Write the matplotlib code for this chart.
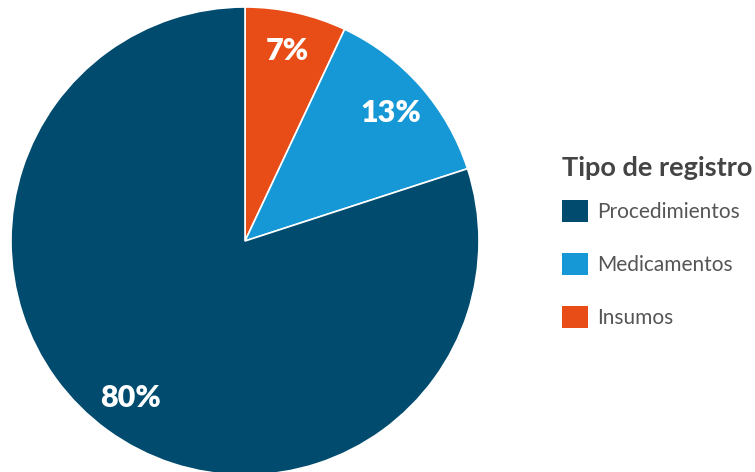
import matplotlib.pyplot as plt

labels = ['Insumos', 'Medicamentos', 'Procedimientos']
values = [7, 13, 80]
colors = ['#e84c17', '#1598d5', '#004b6e']
legend_order = ['Procedimientos', 'Medicamentos', 'Insumos']

plt.rcParams['font.family'] = ['Lato', 'DejaVu Sans']

fig = plt.figure(figsize=(7.55, 4.72), dpi=100)
# pie centred at (245, 241) px with radius 234 px
ax = fig.add_axes([11 / 755, -3 / 472, 468 / 755, 468 / 472])

wedges, texts, autotexts = ax.pie(values, colors=colors, startangle=90, counterclock=False,
                                  autopct='%d%%', pctdistance=0.83,
                                  wedgeprops=dict(edgecolor='white', linewidth=1.2),
                                  textprops=dict(color='white', fontsize=22, fontweight='heavy'))
ax.set_xlim(-1, 1)
ax.set_ylim(-1, 1)
ax.set_aspect('equal')

handles = [wedges[labels.index(l)] for l in legend_order]
leg = fig.legend(handles, legend_order, title='Tipo de registro', loc='upper left',
                 bbox_to_anchor=(545 / 755, 1 - 139 / 472), frameon=False,
                 fontsize=15, title_fontsize=19.5, handlelength=1.25, handleheight=1.25,
                 handletextpad=0.45, labelspacing=1.5, borderpad=0.3)
leg.get_title().set_fontweight('bold')
leg.get_title().set_color('#444444')
leg._legend_box.align = 'left'
leg._legend_box.sep = 14.5
for t in leg.get_texts():
    t.set_color('#555555')
for h in leg.legend_handles:
    h.set_edgecolor('none')

fig.savefig('out.png', dpi=100)
